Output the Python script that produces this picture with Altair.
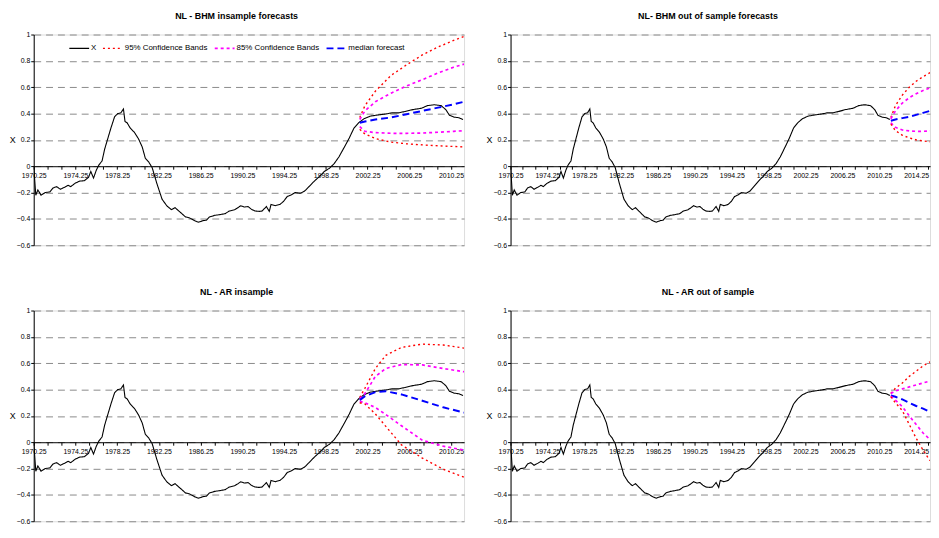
import altair as alt
import pandas as pd

# ---- observed series X (year, value) ----
x_years = [1970.25, 1970.45, 1970.65, 1970.95, 1971.35, 1971.8, 1972.1, 1972.45, 1972.8, 1973.25,
           1973.55, 1973.8, 1974.2, 1974.65, 1975.1, 1975.5, 1975.72, 1975.98, 1976.25, 1976.5,
           1976.8, 1977.05, 1977.35, 1977.65, 1978.0, 1978.3, 1978.6, 1978.85, 1979.0, 1979.2,
           1979.5, 1979.9, 1980.3, 1980.65, 1980.95, 1981.25, 1981.6, 1982.05, 1982.55, 1983.0,
           1983.45, 1983.8, 1984.1, 1984.45, 1984.8, 1985.2, 1985.7, 1986.05, 1986.5, 1986.8,
           1987.1, 1987.6, 1988.05, 1988.6, 1989.0, 1989.5, 1989.8, 1990.1, 1990.45, 1990.8,
           1991.1, 1991.45, 1991.85, 1992.15, 1992.55, 1992.83, 1993.0, 1993.4, 1993.85, 1994.2,
           1994.55, 1994.95, 1995.3, 1995.8, 1996.2, 1996.7, 1997.15, 1997.65, 1998.1, 1998.6,
           1999.05, 1999.5, 1999.85, 2000.2, 2000.5, 2000.95, 2001.4, 2001.9, 2002.5, 2003.3,
           2004.1, 2004.55, 2005.2, 2005.8, 2006.6, 2007.4, 2008.0, 2008.65, 2009.3, 2009.75,
           2010.1, 2010.55, 2011.0, 2011.4]
x_values = [0.0, -0.22, -0.18, -0.22, -0.20, -0.195, -0.165, -0.155, -0.175, -0.158,
            -0.145, -0.155, -0.13, -0.113, -0.11, -0.085, -0.04, -0.09, -0.03, 0.01,
            0.04, 0.13, 0.21, 0.29, 0.375, 0.40, 0.405, 0.435, 0.34, 0.33,
            0.29, 0.257, 0.207, 0.146, 0.06, 0.035, -0.01, -0.13, -0.25, -0.30,
            -0.33, -0.315, -0.336, -0.36, -0.385, -0.393, -0.415, -0.425, -0.413, -0.41,
            -0.385, -0.373, -0.368, -0.36, -0.34, -0.33, -0.316, -0.30, -0.31, -0.306,
            -0.326, -0.34, -0.343, -0.34, -0.306, -0.343, -0.29, -0.30, -0.29, -0.267,
            -0.23, -0.217, -0.20, -0.205, -0.19, -0.15, -0.113, -0.077, -0.04, -0.015,
            0.02, 0.07, 0.12, 0.17, 0.215, 0.29, 0.33, 0.36, 0.38, 0.39,
            0.398, 0.405, 0.405, 0.415, 0.43, 0.44, 0.46, 0.467, 0.46, 0.43,
            0.387, 0.373, 0.368, 0.355]

# ---- NL - BHM insample forecasts ----
tl_years = [2001.5, 2002.0, 2003.0, 2004.5, 2006.0, 2007.5, 2009.0, 2010.5, 2011.5]
tl_up95 = [0.37, 0.46, 0.57, 0.69, 0.77, 0.845, 0.905, 0.955, 0.985]
tl_up85 = [0.355, 0.42, 0.49, 0.555, 0.61, 0.657, 0.708, 0.752, 0.775]
tl_med = [0.33, 0.34, 0.355, 0.37, 0.395, 0.42, 0.445, 0.47, 0.49]
tl_lo85 = [0.30, 0.265, 0.255, 0.25, 0.25, 0.252, 0.258, 0.265, 0.27]
tl_lo95 = [0.28, 0.245, 0.21, 0.183, 0.17, 0.162, 0.155, 0.15, 0.146]

# ---- NL - BHM out of sample forecasts ----
tr_years = [2011.5, 2012.0, 2012.75, 2013.5, 2014.25, 2015.0, 2015.75]
tr_up95 = [0.37, 0.46, 0.54, 0.60, 0.645, 0.68, 0.71]
tr_up85 = [0.36, 0.42, 0.48, 0.52, 0.55, 0.575, 0.595]
tr_med = [0.345, 0.355, 0.365, 0.375, 0.39, 0.405, 0.42]
tr_lo85 = [0.33, 0.295, 0.275, 0.268, 0.265, 0.265, 0.268]
tr_lo95 = [0.32, 0.27, 0.235, 0.215, 0.2, 0.192, 0.185]

# ---- NL - AR insample ----
bl_years = [2001.5, 2002.0, 2003.0, 2004.0, 2005.5, 2007.5, 2009.5, 2011.5]
bl_up95 = [0.34, 0.41, 0.56, 0.66, 0.72, 0.745, 0.738, 0.715]
bl_up85 = [0.33, 0.37, 0.50, 0.56, 0.59, 0.587, 0.56, 0.535]
bl_med = [0.32, 0.35, 0.38, 0.387, 0.363, 0.315, 0.265, 0.225]
bl_lo85 = [0.31, 0.30, 0.264, 0.21, 0.125, 0.015, -0.03, -0.06]
bl_lo95 = [0.30, 0.29, 0.215, 0.12, -0.02, -0.12, -0.205, -0.265]

# ---- NL - AR out of sample ----
br_years = [2011.5, 2012.0, 2012.75, 2013.5, 2014.25, 2015.0, 2015.75]
br_up95 = [0.37, 0.41, 0.45, 0.50, 0.54, 0.58, 0.61]
br_up85 = [0.37, 0.39, 0.405, 0.42, 0.435, 0.45, 0.465]
br_med = [0.355, 0.345, 0.325, 0.30, 0.275, 0.255, 0.23]
br_lo85 = [0.35, 0.32, 0.27, 0.20, 0.135, 0.07, 0.02]
br_lo95 = [0.345, 0.30, 0.24, 0.135, 0.03, -0.06, -0.14]

SERIES = ["X", "95% Confidence Bands", "85% Confidence Bands", "median forecast"]
COLORS = ["#000000", "#FF0000", "#FF00FF", "#0000FF"]
DASHES = [[1, 0], [2, 3], [3, 3], [7, 4]]
WIDTHS = [1.1, 2, 2.5, 2.2]

FONT = "Liberation Sans"
PLOT_H = 213


def panel_df(fc_years, up95, up85, med, lo85, lo95):
    rows = []
    for y, v in zip(x_years, x_values):
        rows.append({"year": y, "value": v, "series": "X", "line": "X"})
    for name, line, vals in [
        ("95% Confidence Bands", "up95", up95),
        ("85% Confidence Bands", "up85", up85),
        ("median forecast", "med", med),
        ("85% Confidence Bands", "lo85", lo85),
        ("95% Confidence Bands", "lo95", lo95),
    ]:
        for y, v in zip(fc_years, vals):
            rows.append({"year": y, "value": v, "series": name, "line": line})
    return pd.DataFrame(rows)


def panel(df, title, xmax, width, show_legend):
    n = int((xmax - 1970.25) * 0.75 + 1e-9)
    xticks = [round(1970.25 + k * 4.0 / 3.0, 4) for k in range(n + 1)]
    if show_legend:
        leg = alt.Legend(orient="none", legendX=35, legendY=3, direction="horizontal",
                         title=None, labelFontSize=8, labelFont=FONT, symbolType="stroke",
                         symbolSize=400, symbolStrokeWidth=2, columnPadding=3,
                         labelOffset=1, labelColor="#000000")
    else:
        leg = None
    x_axis = alt.Axis(values=xticks, offset=-PLOT_H * 0.6 / 1.6, grid=False, domainColor="#000000",
                      tickColor="#000000", tickSize=3, labelFontSize=7, labelPadding=2,
                      labelFlush=False, labelOverlap=False, title=None,
                      labelColor="#000000", labelFont=FONT,
                      labelExpr="(round((datum.value - 1970.25) * 0.75) % 3 == 0) ? format(datum.value, '.2f') : ''")
    y_axis = alt.Axis(values=[-0.6, -0.4, -0.2, 0, 0.2, 0.4, 0.6, 0.8, 1], format="~g",
                      title="X", titleAngle=0, titleAlign="right", titleBaseline="middle",
                      titlePadding=1, titleFontSize=9, titleFont=FONT, titleFontWeight="normal",
                      titleColor="#000000",
                      grid=True, gridDash=[7, 5], gridColor="#8a8a8a", gridWidth=1,
                      domainColor="#000000", tickColor="#000000", tickSize=3,
                      labelFontSize=7, labelPadding=1, labelColor="#000000", labelFont=FONT)
    return alt.Chart(df).mark_line(clip=True).encode(
        x=alt.X("year:Q", scale=alt.Scale(domain=[1970.25, xmax], nice=False, zero=False), axis=x_axis),
        y=alt.Y("value:Q", scale=alt.Scale(domain=[-0.6, 1], nice=False), axis=y_axis),
        color=alt.Color("series:N", scale=alt.Scale(domain=SERIES, range=COLORS), legend=leg),
        strokeDash=alt.StrokeDash("series:N", scale=alt.Scale(domain=SERIES, range=DASHES), legend=leg),
        strokeWidth=alt.StrokeWidth("series:N", scale=alt.Scale(domain=SERIES, range=WIDTHS), legend=None),
        detail="line:N",
    ).properties(
        width=width, height=PLOT_H,
        title=alt.TitleParams(title, fontSize=9, font=FONT, fontWeight="bold", anchor="middle",
                              frame="bounds", offset=10, color="#000000"),
    )


tl = panel(panel_df(tl_years, tl_up95, tl_up85, tl_med, tl_lo85, tl_lo95),
           "NL - BHM insample forecasts", 2011.5, 435, True)
tr = panel(panel_df(tr_years, tr_up95, tr_up85, tr_med, tr_lo85, tr_lo95),
           "NL- BHM out of sample forecasts", 2015.75, 424, False)
bl = panel(panel_df(bl_years, bl_up95, bl_up85, bl_med, bl_lo85, bl_lo95),
           "NL - AR insample", 2011.5, 435, False)
br = panel(panel_df(br_years, br_up95, br_up85, br_med, br_lo85, br_lo95),
           "NL - AR out of sample", 2015.75, 424, False)

RES = dict(x="independent", y="independent", color="independent",
           strokeDash="independent", strokeWidth="independent")

top = alt.hconcat(tl, tr, spacing=20).resolve_scale(**RES)
bottom = alt.hconcat(bl, br, spacing=20).resolve_scale(**RES)

chart = alt.vconcat(top, bottom, spacing=38).resolve_scale(**RES).properties(
    padding={"left": 0, "top": 0, "right": 0, "bottom": -1},
    background="#ffffff",
).configure_view(strokeWidth=0).configure(font=FONT)

chart.save("out.html", embed_options={"renderer": "svg", "actions": False})
